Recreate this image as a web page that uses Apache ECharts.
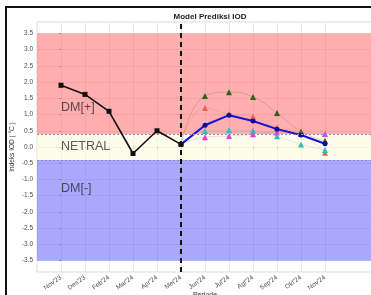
<!DOCTYPE html>
<html>
<head>
<meta charset="utf-8">
<script src="https://cdn.jsdelivr.net/npm/echarts@6/dist/echarts.min.js"></script>
<style>
html, body { margin: 0; padding: 0; background: #fff; }
#chart { width: 371px; height: 295px; }
</style>
</head>
<body>
<div id="chart"></div>
<script>
// data
var months = ["Nov'23", "Des'23", "Feb'24", "Mar'24", "Apr'24", "Mei'24", "Jun'24", "Jul'24", "Agt'24", "Sep'24", "Okt'24", "Nov'24"];
var observed = [1.90, 1.62, 1.10, -0.20, 0.50, 0.08];          // Nov'23 .. Mei'24
var meanPred = [0.08, 0.67, 0.98, 0.80, 0.55, 0.37, 0.10];      // Mei'24 .. Nov'24
var modelGreen = [1.57, 1.69, 1.54, 1.05, 0.48, 0.19];          // Jun'24 .. Nov'24
var modelRed = [1.20, 1.02, 0.93, 0.60, 0.40, -0.18];
var modelCyan = [0.49, 0.52, 0.50, 0.33, 0.08, -0.09];
var modelMagenta = [0.30, 0.34, 0.39, 0.45, 0.40, 0.40];
var yTicks = [-3.5, -3.0, -2.5, -2.0, -1.5, -1.0, -0.5, 0.0, 0.5, 1.0, 1.5, 2.0, 2.5, 3.0, 3.5];
var zoneDMpos = [0.4, 3.5];
var zoneNetral = [-0.4, 0.4];
var zoneDMneg = [-3.5, -0.4];
var zoneLabels = [["DM[+]", 1.22], ["NETRAL", 0.0], ["DM[-]", -1.27]];
var startIdx = 5; // Mei'24, start of prediction

var chart = echarts.init(document.getElementById('chart'));
var font = 'Liberation Sans';

function idx(arr, offset)
{
    return arr.map(function (v, i) { return [i + offset, v]; });
}

function modelSeries(name, values, color)
{
    var data = [{ value: [startIdx, observed[startIdx]], symbol: 'none' }].concat(idx(values, startIdx + 1));
    return {
        name: name,
        type: 'line',
        data: data,
        smooth: true,
        symbol: 'triangle',
        symbolSize: 6,
        itemStyle: { color: color },
        lineStyle: { color: color, width: 0.8, opacity: 0.25 },
        z: 3
    };
}

var tickIdx = months.map(function (m, i) { return i; });

var option = {
    animation: false,
    backgroundColor: '#fff',
    title: {
        text: 'Model Prediksi IOD',
        left: 205,
        textAlign: 'center',
        top: 8,
        textStyle: { fontFamily: font, fontSize: 8, fontWeight: 'bold', color: '#222' }
    },
    graphic: [
        { type: 'rect', shape: { x: 5, y: 6, width: 366, height: 2 }, style: { fill: '#111' }, z: 100 },
        { type: 'rect', shape: { x: 5, y: 6, width: 2, height: 289 }, style: { fill: '#111' }, z: 100 }
    ],
    grid: {
        left: 37, right: -2, top: 22, bottom: 23,
        outerBoundsMode: 'none',
        show: true, borderColor: '#dcdcdc', borderWidth: 1
    },
    xAxis: {
        type: 'value',
        min: -1,
        max: 13,
        name: 'Periode',
        nameLocation: 'middle',
        nameMoveOverlap: false,
        nameGap: 20,
        nameTextStyle: { fontFamily: font, fontSize: 7, color: '#333' },
        axisLine: { show: false },
        axisTick: { show: true, length: 2, customValues: tickIdx, lineStyle: { color: '#999' } },
        axisLabel: {
            customValues: tickIdx,
            rotate: 35,
            margin: 5,
            fontFamily: font,
            fontSize: 6.5,
            color: '#4d4d4d',
            formatter: function (v) { return months[v] || ''; }
        },
        splitLine: { show: true, lineStyle: { color: '#e8e8e8', width: 1 } }
    },
    yAxis: {
        type: 'value',
        min: -3.85,
        max: 3.85,
        name: 'Indeks IOD ( °C )',
        nameLocation: 'middle',
        nameMoveOverlap: false,
        nameGap: 21,
        nameTextStyle: { fontFamily: font, fontSize: 6.5, color: '#333' },
        axisLine: { show: false },
        axisTick: { show: true, length: 2, customValues: yTicks, lineStyle: { color: '#999' } },
        axisLabel: {
            customValues: yTicks,
            margin: 4,
            fontFamily: font,
            fontSize: 6.5,
            color: '#4d4d4d',
            formatter: function (v) { return v.toFixed(1); }
        },
        splitLine: { show: true, lineStyle: { color: '#e8e8e8', width: 1 } }
    },
    series: [
        {
            name: 'zona',
            type: 'line',
            data: [],
            markArea: {
                silent: true,
                data: [
                    [{ yAxis: zoneDMpos[0], itemStyle: { color: 'rgba(255,95,95,0.5)' } }, { yAxis: zoneDMpos[1] }],
                    [{ yAxis: zoneNetral[0], itemStyle: { color: 'rgba(252,250,220,0.6)' } }, { yAxis: zoneNetral[1] }],
                    [{ yAxis: zoneDMneg[0], itemStyle: { color: 'rgba(90,90,255,0.52)' } }, { yAxis: zoneDMneg[1] }]
                ]
            },
            markLine: {
                silent: true,
                symbol: 'none',
                label: { show: false },
                data: [
                    { yAxis: zoneNetral[1], lineStyle: { color: '#8c8cb4', type: [2, 2], width: 1 } },
                    { yAxis: zoneNetral[0], lineStyle: { color: '#8c8cb4', type: [2, 2], width: 1 } },
                    { xAxis: startIdx, lineStyle: { color: '#111', type: [5, 4], width: 2 } }
                ]
            },
            z: 1
        },
        {
            name: 'label zona',
            type: 'scatter',
            data: zoneLabels.map(function (d) { return { name: d[0], value: [0, d[1]] }; }),
            symbolSize: 0,
            label: {
                show: true,
                position: 'right',
                distance: 0,
                formatter: '{b}',
                fontFamily: font,
                fontSize: 12.5,
                color: '#2e2e2e'
            },
            z: 2
        },
        modelSeries('Model 1', modelGreen, '#2f5f16'),
        modelSeries('Model 2', modelRed, '#e86060'),
        modelSeries('Model 3', modelCyan, '#33bcbc'),
        modelSeries('Model 4', modelMagenta, '#e03ce0'),
        {
            name: 'Rata-rata',
            type: 'line',
            data: idx(meanPred, startIdx),
            symbol: 'circle',
            symbolSize: 5,
            itemStyle: { color: '#0b0b9c' },
            lineStyle: { color: '#1414d0', width: 2 },
            z: 4
        },
        {
            name: 'Observasi',
            type: 'line',
            data: idx(observed, 0),
            symbol: 'rect',
            symbolSize: 5,
            itemStyle: { color: '#111' },
            lineStyle: { color: '#111', width: 1.6 },
            z: 5
        }
    ]
};

chart.setOption(option);
</script>
</body>
</html>
